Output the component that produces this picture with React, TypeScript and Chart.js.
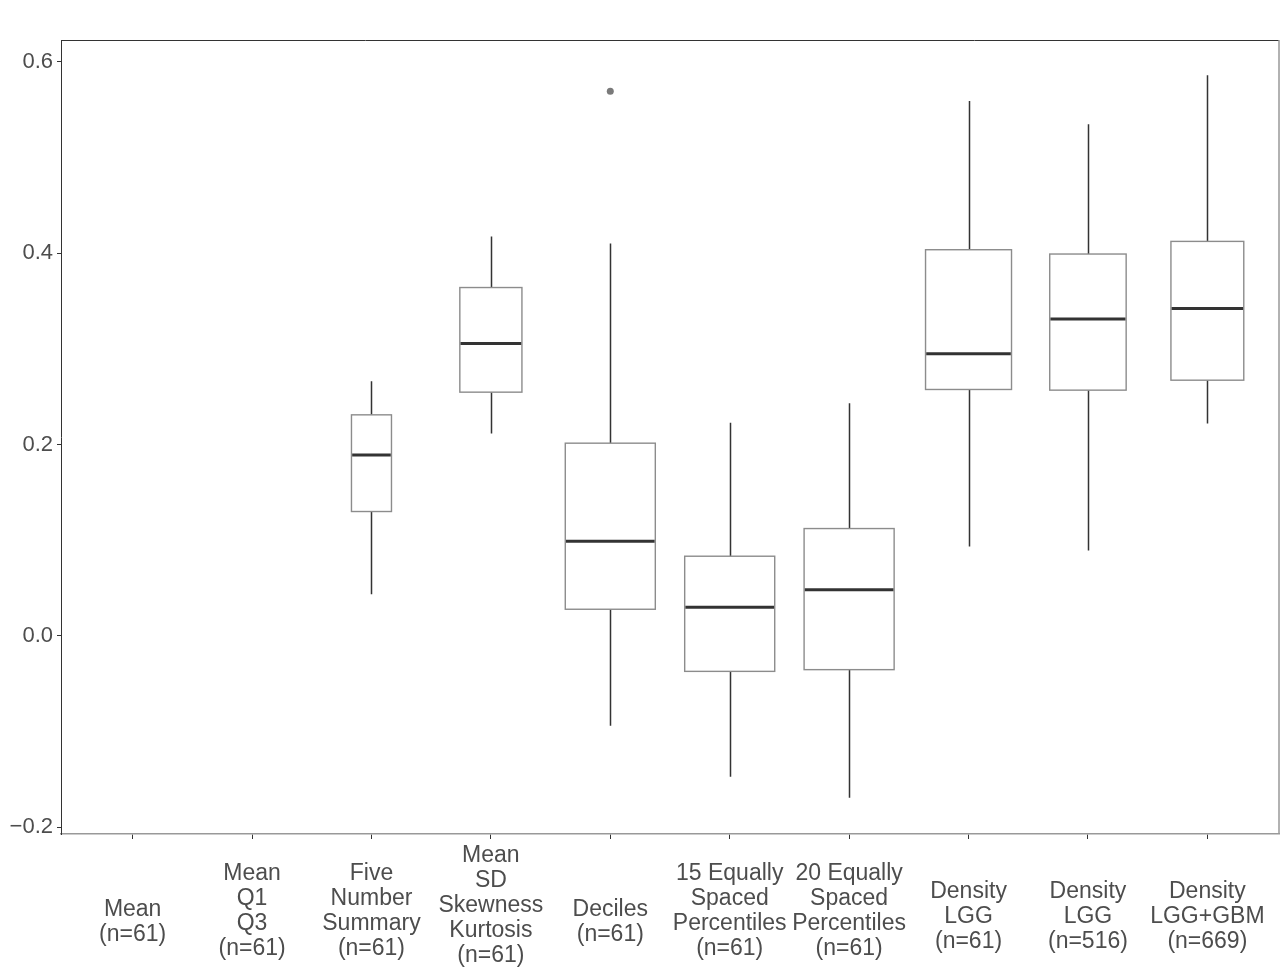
import React, { useEffect, useRef } from "react";
import { Chart, registerables } from "chart.js";

Chart.register(...registerables);

// one entry per method, lines of the x label
const categories: string[][] = [
  ["Mean", "(n=61)"],
  ["Mean", "Q1", "Q3", "(n=61)"],
  ["Five", "Number", "Summary", "(n=61)"],
  ["Mean", "SD", "Skewness", "Kurtosis", "(n=61)"],
  ["Deciles", "(n=61)"],
  ["15 Equally", "Spaced", "Percentiles", "(n=61)"],
  ["20 Equally", "Spaced", "Percentiles", "(n=61)"],
  ["Density", "LGG", "(n=61)"],
  ["Density", "LGG", "(n=516)"],
  ["Density", "LGG+GBM", "(n=669)"],
];

const whiskerLow = [null, null, 0.0435, 0.2115, -0.0937, -0.147, -0.169, 0.0934, 0.0892, 0.222];
const q1 = [null, null, 0.13, 0.2547, 0.0279, -0.037, -0.0352, 0.2575, 0.2568, 0.2672];
const medians = [null, null, 0.189, 0.3056, 0.0989, 0.03, 0.0484, 0.2948, 0.331, 0.3421];
const q3 = [null, null, 0.231, 0.364, 0.2014, 0.0833, 0.1122, 0.4035, 0.399, 0.4122];
const whiskerHigh = [null, null, 0.266, 0.4174, 0.41, 0.2227, 0.243, 0.5588, 0.5345, 0.5857];

const outliers = [{ x: 4, y: 0.569 }];

const yTicks = [-0.2, 0, 0.2, 0.4, 0.6];

// box widths in category units (style)
const boxWidths = [0, 0, 0.335, 0.52, 0.754, 0.754, 0.754, 0.72, 0.64, 0.61];

const FONT = "'Liberation Sans', Arial, sans-serif";
const TEXT = "#4d4d4d";

const boxPlugin = {
  id: "boxes",
  beforeDatasetsDraw(chart: any) {
    const { ctx } = chart;
    const xs = chart.scales.x;
    const ys = chart.scales.y;
    ctx.save();
    for (let i = 0; i < categories.length; i++) {
      if (medians[i] == null) continue;
      const cx = Math.round(xs.getPixelForValue(i)) + 0.5;
      const l = xs.getPixelForValue(i - boxWidths[i] / 2);
      const r = xs.getPixelForValue(i + boxWidths[i] / 2);
      const yLo = ys.getPixelForValue(whiskerLow[i]);
      const yQ1 = ys.getPixelForValue(q1[i]);
      const yMed = ys.getPixelForValue(medians[i]);
      const yQ3 = ys.getPixelForValue(q3[i]);
      const yHi = ys.getPixelForValue(whiskerHigh[i]);

      ctx.strokeStyle = "#333333";
      ctx.lineWidth = 1.5;
      ctx.beginPath();
      ctx.moveTo(cx, yHi);
      ctx.lineTo(cx, yQ3);
      ctx.moveTo(cx, yQ1);
      ctx.lineTo(cx, yLo);
      ctx.stroke();

      ctx.fillStyle = "#ffffff";
      ctx.fillRect(l, yQ3, r - l, yQ1 - yQ3);
      ctx.strokeStyle = "#8c8c8c";
      ctx.lineWidth = 1.4;
      ctx.strokeRect(l, yQ3, r - l, yQ1 - yQ3);

      ctx.strokeStyle = "#333333";
      ctx.lineWidth = 3;
      ctx.beginPath();
      ctx.moveTo(l + 0.7, yMed);
      ctx.lineTo(r - 0.7, yMed);
      ctx.stroke();
    }
    ctx.restore();
  },
  afterDraw(chart: any) {
    const { ctx, chartArea } = chart;
    const xs = chart.scales.x;
    ctx.save();
    // panel frame, top and right
    ctx.strokeStyle = "#333333";
    ctx.lineWidth = 1;
    ctx.beginPath();
    ctx.moveTo(chartArea.left, chartArea.top + 0.5);
    ctx.lineTo(chartArea.right, chartArea.top + 0.5);
    ctx.stroke();
    ctx.strokeStyle = "#999999";
    ctx.lineWidth = 1.5;
    ctx.beginPath();
    ctx.moveTo(chartArea.right, chartArea.top);
    ctx.lineTo(chartArea.right, chartArea.bottom);
    ctx.stroke();

    // x labels, multi-line
    ctx.fillStyle = TEXT;
    ctx.font = `23px ${FONT}`;
    ctx.textAlign = "center";
    ctx.textBaseline = "middle";
    categories.forEach((lines, i) => {
      const n = lines.length;
      const first = chartArea.bottom + 72 + (5 - n) * 5.5 - (n - 1) * 12.5;
      const x = xs.getPixelForValue(i);
      lines.forEach((t, k) => ctx.fillText(t, x, first + k * 25));
    });
    ctx.restore();
  },
};

const App = () => {
  const ref = useRef<HTMLCanvasElement | null>(null);

  useEffect(() => {
    if (!ref.current) return;
    const chart = new Chart(ref.current, {
      type: "scatter",
      data: {
        datasets: [
          {
            label: "outliers",
            data: outliers,
            pointRadius: 3.5,
            pointBackgroundColor: "#7a7a7a",
            pointBorderColor: "#7a7a7a",
            pointBorderWidth: 0,
          },
        ],
      },
      options: {
        animation: false,
        responsive: true,
        maintainAspectRatio: false,
        layout: { padding: { top: 40, right: 7, left: 0, bottom: 0 } },
        plugins: { legend: { display: false }, tooltip: { enabled: false } },
        scales: {
          x: {
            type: "linear",
            min: -0.6,
            max: 9.6,
            afterBuildTicks: (s: any) => {
              s.ticks = categories.map((_, i) => ({ value: i }));
            },
            afterFit: (s: any) => {
              s.height = 140;
            },
            ticks: { display: false },
            grid: { drawOnChartArea: false, drawTicks: true, tickLength: 5, color: "#333333", lineWidth: 1 },
            border: { display: true, color: "#999999", width: 1.5 },
          },
          y: {
            type: "linear",
            min: -0.2069,
            max: 0.6226,
            afterBuildTicks: (s: any) => {
              s.ticks = yTicks.map((v) => ({ value: v }));
            },
            afterFit: (s: any) => {
              s.width = 61;
            },
            ticks: {
              color: TEXT,
              padding: 4,
              font: { family: FONT, size: 22 },
              callback: (v: any) => Number(v).toFixed(1).replace("-", "\u2212"),
            },
            grid: { drawOnChartArea: false, drawTicks: true, tickLength: 4, color: "#333333", lineWidth: 1 },
            border: { display: true, color: "#333333", width: 1 },
          },
        },
      },
      plugins: [boxPlugin],
    });
    return () => chart.destroy();
  }, []);

  return (
    <div style={{ position: "fixed", left: 0, top: 0, width: 1286, height: 974, background: "#fff" }}>
      <canvas ref={ref} />
    </div>
  );
};

export default App;
